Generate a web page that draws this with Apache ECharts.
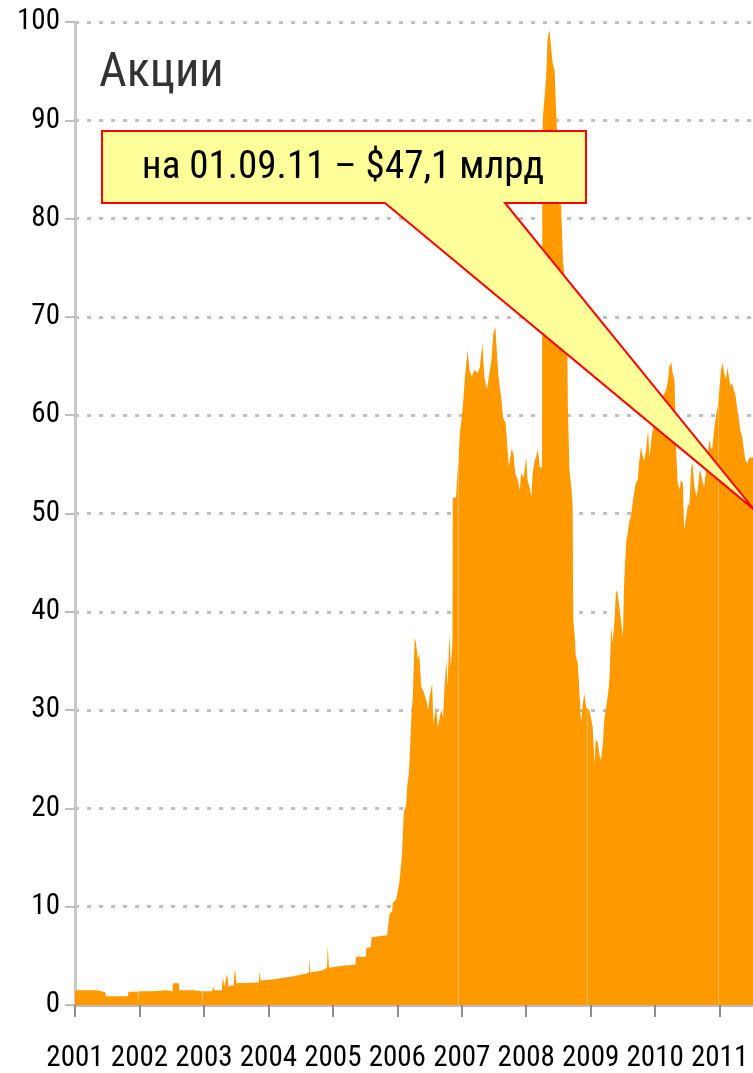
<!DOCTYPE html>
<html>
<head>
<meta charset="utf-8">
<script src="https://cdn.jsdelivr.net/npm/echarts@6/dist/echarts.min.js"></script>
<style>
  html, body { margin: 0; padding: 0; background: #fff; }
  #app { width: 753px; height: 1073px; }
</style>
</head>
<body>
<div id="app"></div>
<script>
// стоимость акций, $ млрд (дата в долях года, значение)
const low2001to2005 = [
    [2001.0, 1.5], [2001.34, 1.5], [2001.35, 1.3], [2001.47, 1.3], [2001.48, 0.9], [2001.82, 0.9],
    [2001.83, 1.35], [2001.975, 1.35], [2001.98, 0], [2001.985, 1.4], [2002.21, 1.4], [2002.22, 1.5],
    [2002.42, 1.5], [2002.43, 1.4], [2002.51, 1.4], [2002.52, 2.2], [2002.61, 2.2], [2002.62, 1.5],
    [2002.83, 1.5], [2002.84, 1.4], [2002.975, 1.4], [2002.98, 0], [2002.985, 1.4], [2003.13, 1.4],
    [2003.14, 1.9], [2003.16, 1.5], [2003.28, 1.5], [2003.29, 2.8], [2003.32, 1.9], [2003.36, 3.2],
    [2003.38, 1.9], [2003.46, 2.0], [2003.48, 3.7], [2003.51, 2.2], [2003.85, 2.3], [2003.86, 3.4],
    [2003.88, 2.5], [2004.06, 2.6], [2004.07, 2.8], [2004.37, 2.9], [2004.38, 3.0], [2004.59, 3.2],
    [2004.63, 3.3], [2004.64, 4.8], [2004.65, 3.3], [2004.83, 3.5], [2004.84, 3.7], [2004.91, 3.8],
    [2004.92, 6.0], [2004.94, 3.8], [2005.15, 4.0], [2005.35, 4.1], [2005.36, 4.9], [2005.51, 4.9],
    [2005.52, 5.8], [2005.59, 5.9], [2005.60, 6.9], [2005.72, 7.0], [2005.84, 7.1], [2005.85, 7.6],
    [2005.87, 7.7], [2005.88, 9.3], [2005.92, 9.5], [2005.93, 10.4], [2005.98, 10.7]
];
const boom2006to2008 = [
    [2006.03, 12.4], [2006.07, 15], [2006.10, 19.5], [2006.14, 20.5], [2006.15, 22], [2006.18, 23.6],
    [2006.20, 26.3], [2006.22, 29.5], [2006.24, 31.3], [2006.27, 37.4], [2006.29, 36.8], [2006.32, 35.1],
    [2006.34, 35.8], [2006.37, 32.4], [2006.40, 32], [2006.45, 31], [2006.48, 30], [2006.50, 31.3],
    [2006.54, 32.7], [2006.56, 28.7], [2006.60, 30.3], [2006.63, 28.3], [2006.68, 30], [2006.71, 29.3],
    [2006.73, 32], [2006.76, 35.1], [2006.78, 32.4], [2006.81, 37.8], [2006.83, 34.4], [2006.855, 36.8],
    [2006.86, 51.6], [2006.91, 51.6], [2006.93, 53.7], [2006.95, 55.4], [2006.97, 58.2], [2007.00, 59.8],
    [2007.02, 61.2], [2007.05, 63.9], [2007.09, 66.6], [2007.12, 64.6], [2007.15, 63.9], [2007.20, 64.6],
    [2007.25, 64.3], [2007.28, 64.9], [2007.32, 67.3], [2007.35, 63.9], [2007.39, 62.6], [2007.42, 63.9],
    [2007.46, 65.6], [2007.49, 68.3], [2007.52, 69], [2007.54, 66.9], [2007.57, 63.9], [2007.61, 61.9],
    [2007.64, 59.8], [2007.68, 59.2], [2007.70, 57.5], [2007.73, 54.7], [2007.77, 56.5], [2007.80, 56.2],
    [2007.83, 54.1], [2007.87, 53.4], [2007.90, 52.4], [2007.92, 54.1], [2007.96, 53.7], [2008.00, 55.7],
    [2008.02, 53.4], [2008.05, 52.7], [2008.08, 51.7], [2008.10, 54.1], [2008.13, 55.4], [2008.15, 55.7],
    [2008.18, 56.5], [2008.21, 54.7], [2008.245, 54.7]
];
const spike2008 = [
    [2008.25, 88], [2008.26, 90.4], [2008.31, 94.4], [2008.33, 98.2], [2008.36, 99.2], [2008.39, 97.1],
    [2008.41, 95.8], [2008.44, 95.1], [2008.46, 91.7], [2008.49, 86.6], [2008.52, 81.2], [2008.54, 81.6],
    [2008.57, 75.8], [2008.59, 74.4], [2008.63, 72], [2008.645, 61.2], [2008.67, 54.4], [2008.70, 52.7],
    [2008.72, 50.7], [2008.73, 39.2], [2008.75, 37.8], [2008.77, 35.4], [2008.80, 34.8], [2008.82, 32.4],
    [2008.85, 28.7], [2008.88, 30.7], [2008.90, 31.7], [2008.93, 30.3], [2008.95, 30.3], [2008.98, 30]
];
const recovery2009to2011 = [
    [2009.03, 28.3], [2009.06, 24.6], [2009.08, 27], [2009.11, 26.7], [2009.14, 25.3], [2009.16, 24.9],
    [2009.19, 26.7], [2009.21, 29], [2009.24, 30.3], [2009.27, 31.7], [2009.29, 33], [2009.32, 38.5],
    [2009.34, 36.8], [2009.37, 39.2], [2009.39, 41.9], [2009.41, 42.2], [2009.45, 40.2], [2009.50, 37.4],
    [2009.52, 43.2], [2009.55, 47], [2009.58, 48.3], [2009.60, 49.3], [2009.62, 49.6], [2009.65, 51],
    [2009.68, 52.4], [2009.70, 53.1], [2009.73, 53.4], [2009.75, 55.1], [2009.78, 56.8], [2009.81, 55.7],
    [2009.83, 55.4], [2009.86, 56.5], [2009.89, 58.5], [2009.91, 55.7], [2009.94, 57.5], [2009.96, 58.5],
    [2009.99, 59.2], [2010.01, 62.6], [2010.04, 62.6], [2010.07, 61.9], [2010.09, 61.5], [2010.12, 61.9],
    [2010.17, 62.6], [2010.20, 63.6], [2010.22, 64.9], [2010.25, 65.4], [2010.27, 64.3], [2010.30, 63.6],
    [2010.33, 55.7], [2010.35, 53.1], [2010.38, 52.4], [2010.40, 53.4], [2010.43, 53.1], [2010.45, 48.3],
    [2010.48, 49.6], [2010.51, 51], [2010.53, 50.7], [2010.56, 54.7], [2010.58, 55.1], [2010.61, 52.7],
    [2010.64, 51.7], [2010.66, 52.4], [2010.69, 54.4], [2010.71, 54.1], [2010.74, 53.1], [2010.76, 52.7],
    [2010.79, 54.4], [2010.81, 55.7], [2010.84, 57.5], [2010.87, 56.5], [2010.89, 56.8], [2010.92, 58.8],
    [2010.95, 60.2], [2010.97, 60.8], [2011.00, 62.9], [2011.02, 64.6], [2011.05, 65.3], [2011.07, 64.3],
    [2011.10, 63.6], [2011.12, 64.9], [2011.15, 64.9], [2011.17, 62.9], [2011.19, 63.3], [2011.22, 62.6],
    [2011.25, 61.9], [2011.27, 60.8], [2011.30, 59.5], [2011.32, 58.5], [2011.35, 57.8], [2011.38, 57.8],
    [2011.40, 55.4], [2011.43, 55.1], [2011.46, 55.7], [2011.58, 55.7]
];
const yearSeams = [2006.95, 2008.95, 2010.98];
const calloutAt = [2011.535, 50.4];
const calloutText = 'на 01.09.11 – $47,1 млрд';

const FONT = '"Roboto Condensed", "Open Sans", sans-serif';

const chart = echarts.init(document.getElementById('app'));
const stocks = [].concat(low2001to2005, boom2006to2008, spike2008, recovery2009to2011);

chart.setOption({
    animation: false,
    backgroundColor: '#fff',
    title: {
        text: 'Акции',
        left: 94,
        top: 45,
        textStyle: { fontFamily: FONT, fontSize: 48, fontWeight: 'normal', color: '#333' }
    },
    // график обрезан справа, как на исходной картинке
    grid: { left: 75, right: -4, top: 22, bottom: 68, outerBoundsMode: 'none', containLabel: false },
    xAxis: {
        type: 'value',
        min: 2001,
        max: 2011.58,
        interval: 1,
        axisLine: { lineStyle: { color: '#BDBDBD', width: 3 } },
        axisTick: { length: 12, lineStyle: { color: '#8C8C8C', width: 2 } },
        axisLabel: {
            showMinLabel: true,
            margin: 39,
            fontFamily: FONT,
            fontSize: 29,
            color: '#000',
            formatter: v => Number.isInteger(v) ? String(v) : ''
        },
        splitLine: { show: false }
    },
    yAxis: {
        type: 'value',
        min: 0,
        max: 100,
        interval: 10,
        axisLine: { show: true, lineStyle: { color: '#C8C8C8', width: 3 } },
        axisTick: { show: true, length: 10, lineStyle: { color: '#BDBDBD', width: 2 } },
        axisLabel: { margin: 15, fontFamily: FONT, fontSize: 29, color: '#000' },
        splitLine: { lineStyle: { color: '#BFBFBF', width: 3, type: [4, 8] } }
    },
    series: [{
        type: 'line',
        data: stocks,
        symbol: 'none',
        lineStyle: { width: 0 },
        areaStyle: { color: '#FF9900', opacity: 1 },
        markLine: {
            silent: true,
            symbol: 'none',
            label: { show: false },
            lineStyle: { color: 'rgba(255,255,255,0.3)', width: 1, type: 'solid' },
            data: yearSeams.map(x => ({ xAxis: x }))
        }
    }]
});

// выноска с подписью
const tip = chart.convertToPixel({ gridIndex: 0 }, calloutAt);
chart.setOption({
    graphic: [{
        type: 'polygon',
        z: 100,
        shape: { points: [[102, 131], [586, 131], [586, 203], [505, 203], tip, [385, 203], [102, 203]] },
        style: { fill: '#FFFF99', stroke: '#FF0000', lineWidth: 2 }
    }, {
        type: 'text',
        z: 101,
        x: 343,
        y: 168,
        style: {
            text: calloutText,
            font: '39px ' + FONT,
            fill: '#000',
            textAlign: 'center',
            textVerticalAlign: 'middle'
        }
    }]
});
</script>
</body>
</html>
